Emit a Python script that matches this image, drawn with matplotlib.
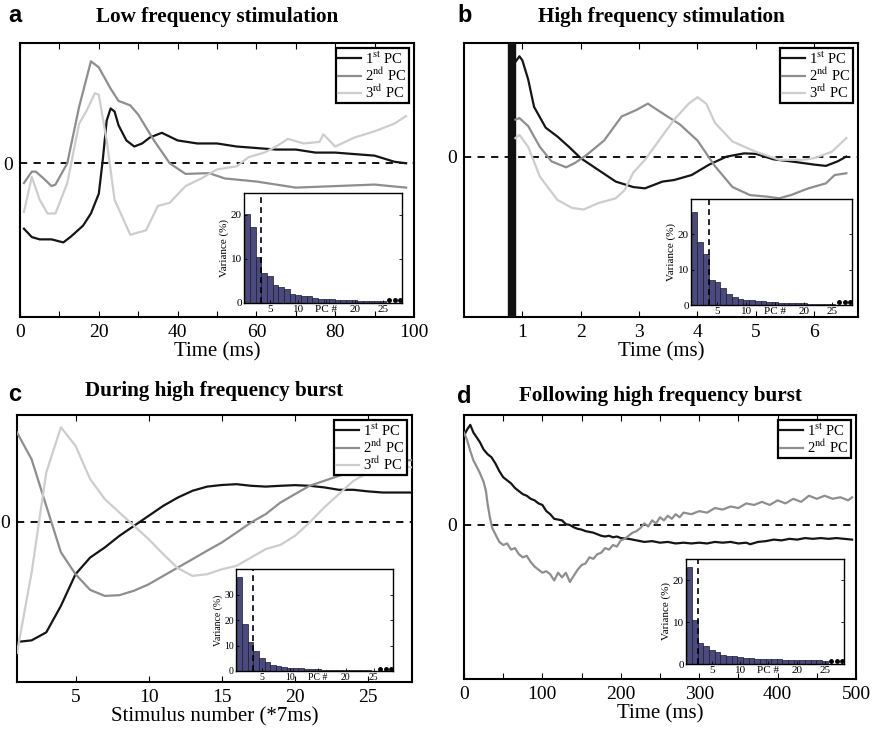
import numpy as np
import matplotlib
matplotlib.use("Agg")
import matplotlib.pyplot as plt

plt.rcParams['font.family'] = ['Liberation Serif', 'DejaVu Serif']
plt.rcParams['mathtext.fontset'] = 'stix'

# ---- panel a: low frequency stimulation ----
a_t1 = [1, 3, 5, 8, 11, 13, 16, 18, 20, 21, 22, 23, 24, 25, 27, 29, 31, 33, 36, 40, 45, 50, 55, 60, 65, 70, 75, 80, 85, 90, 95, 98]
a_pc1 = [-0.43, -0.485, -0.5, -0.5, -0.52, -0.48, -0.41, -0.33, -0.2, 0.02, 0.28, 0.36, 0.34, 0.25, 0.15, 0.11, 0.13, 0.17, 0.2, 0.15, 0.13, 0.13, 0.11, 0.1, 0.09, 0.09, 0.07, 0.07, 0.06, 0.05, 0.01, 0.0]
a_t2 = [1, 3, 4, 6, 8, 9, 12, 15, 18, 20, 23, 25, 28, 30, 34, 38, 42, 48, 52, 60, 70, 80, 90, 98]
a_pc2 = [-0.13, -0.055, -0.055, -0.1, -0.15, -0.14, 0.0, 0.37, 0.67, 0.63, 0.49, 0.41, 0.38, 0.32, 0.15, 0.0, -0.07, -0.065, -0.1, -0.12, -0.16, -0.15, -0.14, -0.16]
a_t3 = [1, 3, 5, 7, 9, 12, 15, 17, 19, 20, 22, 24, 28, 32, 35, 38, 42, 46, 50, 55, 58, 62, 65, 68, 72, 76, 77, 80, 85, 90, 95, 98]
a_pc3 = [-0.32, -0.09, -0.24, -0.33, -0.33, -0.13, 0.26, 0.35, 0.46, 0.45, 0.15, -0.24, -0.47, -0.44, -0.28, -0.26, -0.15, -0.1, -0.04, -0.02, 0.04, 0.07, 0.11, 0.16, 0.13, 0.14, 0.19, 0.11, 0.17, 0.21, 0.26, 0.31]
a_var = [20.2, 17.3, 10.5, 6.8, 6.2, 4.2, 3.7, 3.1, 2.1, 1.9, 1.7, 1.5, 1.2, 1.0, 0.9, 0.8, 0.75, 0.7, 0.65, 0.6, 0.55, 0.5, 0.5, 0.45, 0.4]

# ---- panel b: high frequency stimulation ----
b_t1 = [0.88, 0.95, 1.0, 1.1, 1.2, 1.4, 1.6, 1.8, 2.0, 2.3, 2.6, 2.9, 3.1, 3.4, 3.6, 3.9, 4.2, 4.5, 4.8, 5.0, 5.3, 5.6, 6.0, 6.2, 6.4, 6.55]
b_pc1 = [0.59, 0.625, 0.6, 0.48, 0.31, 0.18, 0.125, 0.06, -0.01, -0.083, -0.156, -0.19, -0.198, -0.156, -0.146, -0.115, -0.05, 0.0, 0.02, 0.017, -0.017, -0.03, -0.05, -0.058, -0.03, 0.0]
b_t2 = [0.88, 0.95, 1.1, 1.3, 1.5, 1.75, 1.9, 2.1, 2.4, 2.7, 2.95, 3.15, 3.4, 3.7, 4.0, 4.3, 4.6, 4.9, 5.2, 5.4, 5.6, 5.9, 6.2, 6.35, 6.55]
b_pc2 = [0.23, 0.24, 0.19, 0.06, -0.03, -0.067, -0.04, 0.01, 0.1, 0.25, 0.29, 0.33, 0.27, 0.2, 0.1, -0.06, -0.19, -0.24, -0.25, -0.26, -0.24, -0.198, -0.167, -0.115, -0.104]
b_t3 = [0.88, 0.95, 1.1, 1.3, 1.6, 1.85, 2.05, 2.3, 2.6, 2.75, 2.9, 3.1, 3.3, 3.6, 3.85, 4.0, 4.15, 4.3, 4.6, 5.0, 5.4, 5.8, 6.0, 6.3, 6.55]
b_pc3 = [0.115, 0.135, 0.06, -0.125, -0.27, -0.32, -0.33, -0.29, -0.26, -0.21, -0.1, -0.02, 0.08, 0.23, 0.33, 0.37, 0.33, 0.21, 0.094, 0.03, -0.02, -0.02, -0.01, 0.03, 0.115]
b_var = [26.2, 17.8, 14.5, 7.0, 6.6, 4.8, 3.0, 2.4, 1.8, 1.5, 1.3, 1.1, 1.0, 0.9, 0.8, 0.7, 0.6, 0.55, 0.5, 0.45, 0.4, 0.35, 0.3, 0.25, 0.2]

# ---- panel c: during high frequency burst ----
c_stim = list(range(1, 29))
c_pc1 = [-0.75, -0.74, -0.69, -0.525, -0.327, -0.223, -0.16, -0.0875, -0.025, 0.0375, 0.1, 0.152, 0.194, 0.22, 0.23, 0.235, 0.225, 0.22, 0.225, 0.229, 0.225, 0.215, 0.2, 0.2, 0.19, 0.183, 0.183, 0.183]
c_pc2 = [0.558, 0.39, 0.1, -0.19, -0.327, -0.425, -0.4625, -0.458, -0.43, -0.39, -0.3375, -0.285, -0.233, -0.18, -0.129, -0.067, -0.004, 0.048, 0.12, 0.173, 0.225, 0.256, 0.2875, 0.3125, 0.34, 0.36, 0.38, 0.385]
c_pc3 = [-0.817, -0.317, 0.308, 0.59, 0.475, 0.267, 0.142, 0.058, -0.025, -0.108, -0.202, -0.29, -0.3375, -0.327, -0.296, -0.275, -0.223, -0.17, -0.144, -0.0875, -0.004, 0.09, 0.173, 0.256, 0.308, 0.346, 0.35, 0.34]
c_var = [36.8, 18.5, 11.5, 7.9, 5.1, 3.4, 2.4, 1.8, 1.5, 1.3, 1.2, 1.0, 0.8, 0.7, 0.6, 0.5, 0.45, 0.4, 0.35, 0.3, 0.3, 0.25, 0.2, 0.2, 0.15]

# ---- panel d: following high frequency burst ----
d_t1 = [0, 4, 8, 12, 16, 20, 25, 30, 35, 40, 45, 50, 55, 60, 65, 70, 75, 80, 85, 90, 95, 100, 105, 110, 115, 120, 125, 130, 135, 140, 145, 150, 155, 160, 165, 170, 175, 180, 185, 190, 195, 200, 210, 220, 230, 240, 250, 260, 270, 280, 290, 300, 310, 320, 330, 340, 350, 360, 365, 375, 385, 395, 405, 415, 425, 435, 445, 455, 465, 475, 485, 495]
d_pc1 = [0.58, 0.62, 0.65, 0.6, 0.57, 0.54, 0.49, 0.46, 0.44, 0.4, 0.35, 0.31, 0.29, 0.27, 0.24, 0.22, 0.2, 0.19, 0.17, 0.16, 0.14, 0.13, 0.09, 0.07, 0.04, 0.035, 0.03, 0.005, 0.0, -0.015, -0.025, -0.03, -0.04, -0.045, -0.05, -0.06, -0.07, -0.075, -0.07, -0.08, -0.075, -0.085, -0.09, -0.1, -0.11, -0.105, -0.115, -0.11, -0.12, -0.115, -0.12, -0.115, -0.12, -0.11, -0.115, -0.11, -0.12, -0.115, -0.125, -0.11, -0.105, -0.095, -0.1, -0.09, -0.095, -0.085, -0.09, -0.085, -0.09, -0.085, -0.09, -0.095]
d_t2 = [0, 4, 8, 12, 16, 20, 25, 28, 30, 33, 36, 40, 45, 50, 55, 60, 65, 70, 75, 80, 85, 90, 95, 100, 105, 110, 115, 120, 125, 130, 135, 140, 145, 150, 155, 160, 165, 170, 175, 180, 185, 190, 195, 200, 205, 210, 215, 220, 225, 230, 235, 240, 245, 250, 255, 260, 265, 270, 275, 280, 290, 300, 310, 320, 330, 340, 350, 360, 370, 380, 390, 400, 410, 420, 430, 440, 450, 460, 470, 480, 490, 495]
d_pc2 = [0.6, 0.55, 0.48, 0.42, 0.38, 0.34, 0.28, 0.22, 0.14, 0.05, -0.02, -0.06, -0.11, -0.13, -0.12, -0.16, -0.15, -0.19, -0.21, -0.2, -0.24, -0.27, -0.29, -0.31, -0.3, -0.32, -0.36, -0.31, -0.34, -0.31, -0.37, -0.33, -0.29, -0.26, -0.25, -0.21, -0.22, -0.19, -0.18, -0.15, -0.16, -0.13, -0.14, -0.1, -0.09, -0.07, -0.05, -0.04, -0.02, 0.01, -0.01, 0.03, 0.01, 0.05, 0.03, 0.06, 0.04, 0.07, 0.05, 0.08, 0.07, 0.09, 0.08, 0.11, 0.1, 0.12, 0.11, 0.14, 0.13, 0.15, 0.13, 0.16, 0.14, 0.17, 0.15, 0.19, 0.17, 0.19, 0.17, 0.18, 0.16, 0.18]
d_var = [23.2, 10.4, 5.0, 4.4, 3.3, 2.8, 2.2, 1.8, 1.8, 1.6, 1.5, 1.4, 1.3, 1.25, 1.2, 1.15, 1.1, 1.05, 1.0, 1.0, 0.95, 0.9, 0.9, 0.85, 0.8]

pc_names = ['1$^{\\rm st}$ PC', '2$^{\\rm nd}$ PC', '3$^{\\rm rd}$ PC']
pc_colors = ['#151515', '#8e8e8e', '#cdcdcd']

W, H = 874, 732
fig = plt.figure(figsize=(W / 100, H / 100), dpi=100)


def box(l, t, r, b):
    return [l / W, 1 - b / H, (r - l) / W, (b - t) / H]


def main_axes(rect, xlim, ylim, xticks, minor, xlabel):
    ax = fig.add_axes(rect)
    ax.set_xlim(xlim)
    ax.set_ylim(ylim)
    ax.axhline(0, color='k', lw=1.3, ls=(0, (4, 3.5)), zorder=1)
    ax.set_yticks([0])
    ax.tick_params(axis='y', length=0, labelsize=14, pad=5)
    ax.set_xticks(xticks)
    ax.set_xticks(minor, minor=True)
    ax.tick_params(axis='x', which='both', direction='in', top=True, length=4, width=0.8, labelsize=14, pad=5)
    ax.set_xlabel(xlabel, fontsize=15, labelpad=1)
    for s in ax.spines.values():
        s.set_linewidth(1.5)
    return ax


def curves(ax, xs, ys):
    lines = []
    for i, (x, y) in enumerate(zip(xs, ys)):
        ln, = ax.plot(x, y, color=pc_colors[i], lw=1.6, zorder=4)
        lines.append(ln)
    lg = ax.legend(lines, pc_names[:len(lines)], loc='upper right', fontsize=10.5, frameon=True, fancybox=False,
                   handlelength=1.6, handletextpad=0.3, labelspacing=0.0, borderpad=0.15,
                   borderaxespad=0.35, framealpha=1)
    lg.get_frame().set_edgecolor('k')
    lg.get_frame().set_linewidth(1.6)


def inset(rect, var, ymax, yticks, ncut, fs=8):
    ins = fig.add_axes(rect)
    pcs = np.arange(1, len(var) + 1)
    ins.bar(pcs, var, width=1.0, color='#4b4a7e', edgecolor='#1a1a2a', linewidth=0.5)
    ins.axvline(ncut, color='k', lw=1.2, ls=(0, (3.5, 2.5)))
    ins.plot([26.1, 27.1, 28.0], [0.6 * ymax / 25] * 3, 'o', color='k', ms=2.5)
    ins.set_xlim(0.4, 28.4)
    ins.set_ylim(0, ymax)
    ins.set_xticks([5, 10, 15, 20, 25])
    ins.set_xticklabels(['5', '10', 'PC #', '20', '25'])
    ins.set_yticks(yticks)
    ins.tick_params(direction='in', length=2.5, width=0.6, top=False, right=True, labelsize=fs, pad=1.5)
    ins.set_ylabel('Variance (%)', fontsize=fs, labelpad=1)
    for s in ins.spines.values():
        s.set_linewidth(1.0)
    return ins


# a
ax = main_axes(box(20, 43, 414, 317), (0, 100), (-1.01, 0.79), [0, 20, 40, 60, 80, 100], range(10, 100, 20), 'Time (ms)')
curves(ax, [a_t1, a_t2, a_t3], [a_pc1, a_pc2, a_pc3])
inset(box(244, 193, 402, 303), a_var, 25, [0, 10, 20], 3.5)

# b
ax = main_axes(box(464, 43, 858, 317), (0, 6.75), (-1.0, 0.708), [1, 2, 3, 4, 5, 6], [], 'Time (ms)')
ax.axvspan(0.75, 0.87, color='#111111', zorder=3)
curves(ax, [b_t1, b_t2, b_t3], [b_pc1, b_pc2, b_pc3])
inset(box(691, 199, 852, 305), b_var, 30, [0, 10, 20], 3.5)

# c
ax = main_axes(box(17, 415, 412, 682), (1, 28), (-1.0, 0.667), [5, 10, 15, 20, 25], [], 'Stimulus number (*7ms)')
curves(ax, [c_stim, c_stim, c_stim], [c_pc1, c_pc2, c_pc3])
inset(box(236, 569, 393, 671), c_var, 40, [0, 10, 20, 30], 3.5, fs=7)

# d
ax = main_axes(box(464, 415, 856, 679), (0, 500), (-1.0, 0.714), [0, 100, 200, 300, 400, 500], range(50, 500, 100), 'Time (ms)')
curves(ax, [d_t1, d_t2], [d_pc1, d_pc2])
inset(box(686, 559, 844, 664), d_var, 25, [0, 10, 20], 2.5)

# titles and panel letters
titles = ['Low frequency stimulation', 'High frequency stimulation', 'During high frequency burst', 'Following high frequency burst']
title_xy = [(217, 17), (661, 17), (214, 391), (660, 396)]
letters = ['a', 'b', 'c', 'd']
letter_xy = [(8, 15), (457, 15), (8, 394), (457, 396)]
for t, (x, y) in zip(titles, title_xy):
    fig.text(x / W, 1 - y / H, t, ha='center', va='center', fontsize=15.2, fontweight='bold')
for t, (x, y) in zip(letters, letter_xy):
    fig.text(x / W, 1 - y / H, t, ha='left', va='center', fontsize=17, fontweight='bold', family='Liberation Sans')

fig.savefig('out.png', dpi=100)
